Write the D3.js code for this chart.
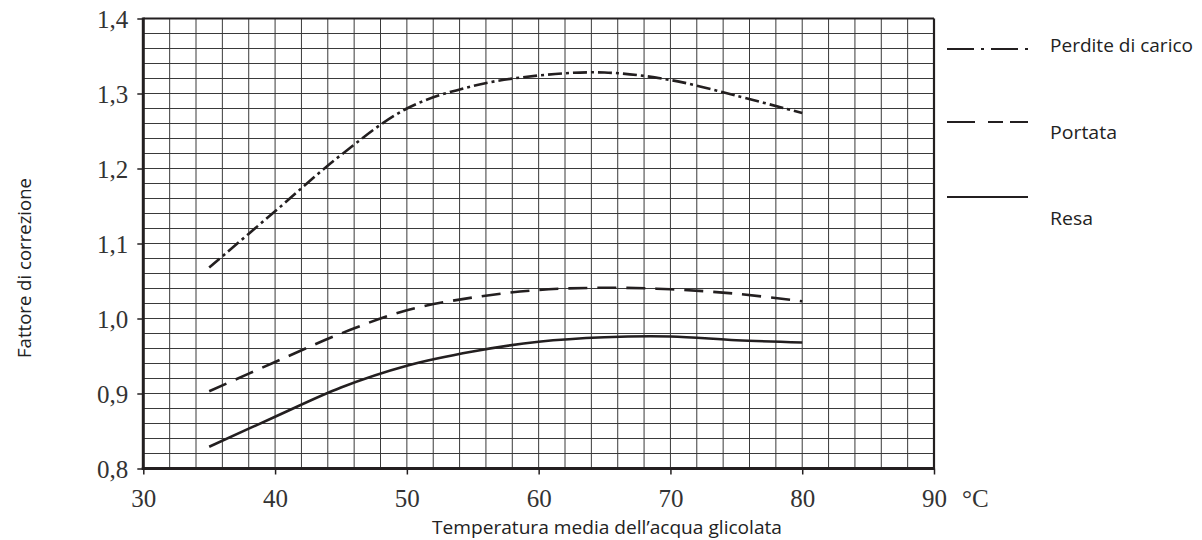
<!DOCTYPE html>
<html>
<head>
<meta charset="utf-8">
<script src="https://cdn.jsdelivr.net/npm/d3@7"></script>
<style>
  html, body { margin: 0; padding: 0; background: #fff; }
  svg { display: block; }
</style>
</head>
<body>
<svg id="chart" width="1202" height="540"></svg>
<script>
// ---- data ----
const temps = [35, 40, 45, 50, 55, 60, 65, 70, 75, 80];
const perditeDiCarico = [1.068, 1.143, 1.218, 1.280, 1.310, 1.324, 1.328, 1.318, 1.297, 1.274];
const portata = [0.903, 0.942, 0.980, 1.011, 1.028, 1.038, 1.041, 1.039, 1.033, 1.023];
const resa = [0.829, 0.869, 0.908, 0.937, 0.956, 0.969, 0.975, 0.976, 0.971, 0.968];
const xTicks = [30, 40, 50, 60, 70, 80, 90];
const yTicks = [0.8, 0.9, 1.0, 1.1, 1.2, 1.3, 1.4];
const seriesNames = ["Perdite di carico", "Portata", "Resa"];
const xTitle = "Temperatura media dell\u2019acqua glicolata";
const yTitle = "Fattore di correzione";
const unit = "\u00B0C";

// ---- layout ----
const svg = d3.select("#chart");
const x = d3.scaleLinear().domain([30, 90]).range([143.3, 934]);
const y = d3.scaleLinear().domain([0.8, 1.4]).range([468.5, 18.5]);
const ink = "#231f20";

// grid
const g = svg.append("g");
g.selectAll("line.vx").data(d3.range(32, 90, 2)).join("line")
  .attr("x1", d => x(d)).attr("x2", d => x(d))
  .attr("y1", y(1.4)).attr("y2", y(0.8))
  .attr("stroke", "#3a3a3a").attr("stroke-width", 1);
g.selectAll("line.hy").data(d3.range(1, 30).map(i => 0.8 + i * 0.02)).join("line")
  .attr("y1", d => y(d)).attr("y2", d => y(d))
  .attr("x1", x(30)).attr("x2", x(90))
  .attr("stroke", "#3a3a3a").attr("stroke-width", 1);

// frame
svg.append("line").attr("x1", x(30)).attr("x2", x(90)).attr("y1", y(1.4)).attr("y2", y(1.4))
  .attr("stroke", ink).attr("stroke-width", 2.2);
svg.append("line").attr("x1", x(90)).attr("x2", x(90)).attr("y1", y(1.4)).attr("y2", y(0.8))
  .attr("stroke", ink).attr("stroke-width", 2.2);

// axes
const xAxis = d3.axisBottom(x).tickValues(xTicks).tickSize(6).tickSizeOuter(0).tickFormat(d3.format("d"));
const yAxis = d3.axisLeft(y).tickValues(yTicks).tickSize(6).tickSizeOuter(0)
  .tickFormat(d => d3.format(".1f")(d).replace(".", ","));

const gx = svg.append("g").attr("transform", `translate(0,${y(0.8)})`).call(xAxis);
const gy = svg.append("g").attr("transform", `translate(${x(30)},0)`).call(yAxis);
[gx, gy].forEach(a => {
  a.select(".domain").attr("stroke", ink).attr("stroke-width", 3);
  a.selectAll(".tick line").attr("stroke", ink).attr("stroke-width", 1.5);
  a.selectAll(".tick text").attr("fill", "#333").attr("font-family", "'Liberation Serif', serif")
    .attr("font-size", 25);
});
gx.select(".domain").attr("d", `M${x(30) - 1.5},0H${x(90) + 1}`);
gy.select(".domain").attr("d", `M0,${y(1.4) - 1}V${y(0.8) + 1.5}`);
gx.selectAll(".tick text").attr("dy", null).attr("y", 38);
gy.selectAll(".tick text").attr("x", -15).attr("dy", "0.34em");

// unit
svg.append("text").attr("x", 962).attr("y", y(0.8) + 38).text(unit)
  .attr("fill", "#333").attr("font-family", "'Liberation Serif', serif").attr("font-size", 25);

// titles
svg.append("text").attr("x", 432).attr("y", 534)
  .attr("font-family", "'Open Sans', sans-serif").attr("font-size", 19).attr("fill", "#222")
  .attr("textLength", 350).attr("lengthAdjust", "spacingAndGlyphs").text(xTitle);
svg.append("text").attr("transform", "translate(31,268) rotate(-90)").attr("text-anchor", "middle")
  .attr("font-family", "'Open Sans', sans-serif").attr("font-size", 18.5).attr("fill", "#222")
  .attr("textLength", 180).attr("lengthAdjust", "spacingAndGlyphs").text(yTitle);

// curves
const line = d3.line().x(d => x(d[0])).y(d => y(d[1])).curve(d3.curveCatmullRom.alpha(0.5));
const series = [
  { name: seriesNames[0], values: perditeDiCarico, dash: "14,4,3,4", legendDash: "27,7,3,7", ly: 49, tb: 52, tl: 143 },
  { name: seriesNames[1], values: portata, dash: "19,10", legendDash: "28,13,15,7,18", ly: 122, tb: 138.5, tl: 67 },
  { name: seriesNames[2], values: resa, dash: null, legendDash: null, ly: 197, tb: 225, tl: 43 }
];
series.forEach(s => {
  svg.append("path").datum(temps.map((t, i) => [t, s.values[i]]))
    .attr("d", line).attr("fill", "none").attr("stroke", ink).attr("stroke-width", 2.6)
    .attr("stroke-dasharray", s.dash);
  svg.append("line").attr("x1", 947).attr("x2", 1028).attr("y1", s.ly).attr("y2", s.ly)
    .attr("stroke", ink).attr("stroke-width", 2.2).attr("stroke-dasharray", s.legendDash);
  svg.append("text").attr("x", 1050).attr("y", s.tb)
    .attr("font-family", "'Open Sans', sans-serif").attr("font-size", 18.5).attr("fill", "#222")
    .attr("textLength", s.tl).attr("lengthAdjust", "spacingAndGlyphs").text(s.name);
});
</script>
</body>
</html>
